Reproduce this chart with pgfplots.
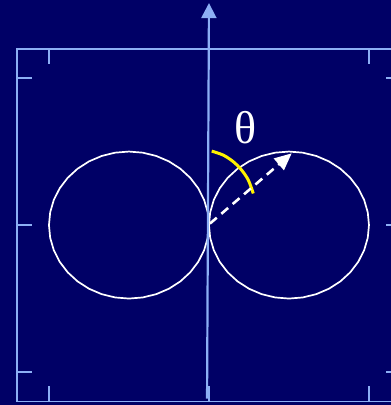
\documentclass[border=0pt]{standalone}
\usepackage{pgfplots}
\pgfplotsset{compat=1.18}
\usetikzlibrary{arrows.meta}
\usepackage{fontspec}
\setmainfont{Liberation Serif}
\definecolor{bg}{RGB}{0,0,102}
\definecolor{frame}{RGB}{140,175,245}
\begin{document}
\begin{tikzpicture}
\begin{axis}[set layers,
  x=160pt, y=147pt,
  xmin=-1.2, xmax=1.2, ymin=-1.2, ymax=1.2,
  axis line style={frame, line width=1.7pt},
  xtick={-1,0,1}, ytick={-1,0,1},
  xticklabels={}, yticklabels={},
  tick style={frame, line width=1.7pt},
  major tick length=15pt, tick align=inside,
  clip=false]
\begin{pgfonlayer}{axis background}
\fill[bg] (axis cs:-1.306,-1.224) rectangle (axis cs:1.1375,1.531);
\end{pgfonlayer}
\coordinate (BL) at (axis cs:-1.306,-1.224);
\coordinate (TR) at (axis cs:1.1375,1.531);
% right lobe
\addplot[white, line width=1.7pt] coordinates {
(1,0) (0.9924,0.0868) (0.9698,0.1710) (0.9330,0.25) (0.8830,0.3214) (0.8214,0.3830)
(0.75,0.4330) (0.6710,0.4698) (0.5868,0.4924) (0.5,0.5) (0.4132,0.4924) (0.3290,0.4698)
(0.25,0.4330) (0.1786,0.3830) (0.1170,0.3214) (0.0670,0.25) (0.0302,0.1710) (0.0076,0.0868)
(0,0) (0.0076,-0.0868) (0.0302,-0.1710) (0.0670,-0.25) (0.1170,-0.3214) (0.1786,-0.3830)
(0.25,-0.4330) (0.3290,-0.4698) (0.4132,-0.4924) (0.5,-0.5) (0.5868,-0.4924) (0.6710,-0.4698)
(0.75,-0.4330) (0.8214,-0.3830) (0.8830,-0.3214) (0.9330,-0.25) (0.9698,-0.1710) (0.9924,-0.0868) (1,0)
};
% left lobe
\addplot[white, line width=1.7pt] coordinates {
(-1,0) (-0.9924,0.0868) (-0.9698,0.1710) (-0.9330,0.25) (-0.8830,0.3214) (-0.8214,0.3830)
(-0.75,0.4330) (-0.6710,0.4698) (-0.5868,0.4924) (-0.5,0.5) (-0.4132,0.4924) (-0.3290,0.4698)
(-0.25,0.4330) (-0.1786,0.3830) (-0.1170,0.3214) (-0.0670,0.25) (-0.0302,0.1710) (-0.0076,0.0868)
(0,0) (-0.0076,-0.0868) (-0.0302,-0.1710) (-0.0670,-0.25) (-0.1170,-0.3214) (-0.1786,-0.3830)
(-0.25,-0.4330) (-0.3290,-0.4698) (-0.4132,-0.4924) (-0.5,-0.5) (-0.5868,-0.4924) (-0.6710,-0.4698)
(-0.75,-0.4330) (-0.8214,-0.3830) (-0.8830,-0.3214) (-0.9330,-0.25) (-0.9698,-0.1710) (-0.9924,-0.0868) (-1,0)
};
% vertical axis arrow
\draw[frame, line width=2.2pt, -{Triangle[width=15pt,length=15pt]}] (axis cs:-0.012,-1.18) -- (axis cs:0,1.510);
% yellow angle arc
\draw[yellow, line width=3pt] plot[smooth] coordinates {(axis cs:0.017,0.503) (axis cs:0.089,0.476) (axis cs:0.152,0.431) (axis cs:0.204,0.374) (axis cs:0.246,0.306) (axis cs:0.277,0.215)};
% dashed arrow
\draw[white, line width=2.6pt, dash pattern=on 9pt off 6pt, -{Triangle[width=15pt,length=17pt]}] (axis cs:0.006,0.01) -- (axis cs:0.517,0.488);
\node[white, font=\fontsize{46}{46}\selectfont] at (axis cs:0.231,0.66) {θ};
\end{axis}
\pgfresetboundingbox
\useasboundingbox (BL) rectangle (TR);
\end{tikzpicture}
\end{document}
